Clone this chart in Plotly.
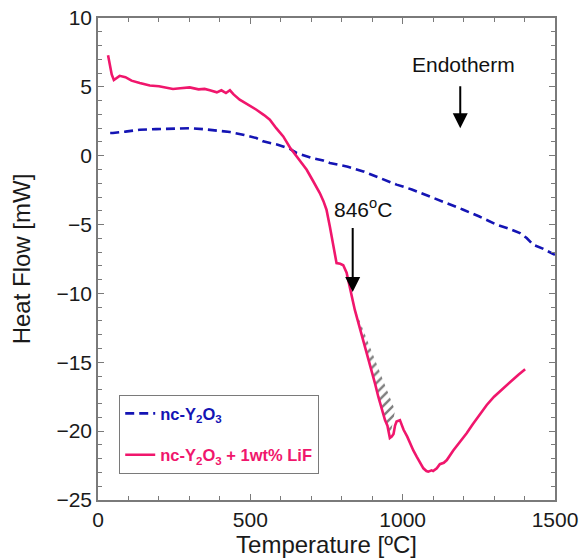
import plotly.graph_objects as go

# ---------------- data ----------------
pure_T = [40, 49, 90, 137, 190, 246, 301, 350, 411, 433, 480, 520, 542, 590, 630, 652,
          700, 739, 761, 820, 871, 930, 980, 1030, 1090, 1150, 1199, 1250, 1309, 1350,
          1385, 1407, 1429, 1460, 1489, 1500]
pure_hf = [1.65, 1.65, 1.75, 1.89, 1.93, 1.96, 2.0, 1.92, 1.77, 1.72, 1.5, 1.28, 1.04, 0.8,
           0.5, 0.2, -0.15, -0.35, -0.53, -0.8, -1.14, -1.65, -2.1, -2.45, -2.96, -3.5,
           -3.92, -4.4, -5.01, -5.3, -5.62, -5.98, -6.47, -6.75, -7.07, -7.2]

lif_T = [33, 38, 45, 52, 60, 71, 90, 110, 137, 170, 200, 230, 246, 270, 301, 330, 350, 367,
         390, 405, 420, 433, 445, 465, 490, 520, 545, 564, 585, 608, 630, 652, 670, 685, 705,
         728, 740, 750, 761, 772, 783, 795, 805, 816, 827, 837, 843, 857, 871, 885, 898, 910,
         920, 932, 942, 950, 958, 964, 970, 975, 980, 991, 1003, 1015, 1024, 1035, 1046, 1057,
         1068, 1078, 1084, 1095, 1100, 1112, 1122, 1135, 1145, 1166, 1177, 1190, 1210, 1230,
         1254, 1276, 1300, 1320, 1352, 1380, 1402]
lif_hf = [7.3, 6.6, 5.9, 5.5, 5.6, 5.8, 5.7, 5.45, 5.28, 5.1, 5.05, 4.95, 4.85, 4.9, 4.96,
          4.82, 4.85, 4.75, 4.6, 4.75, 4.55, 4.75, 4.45, 4.07, 3.75, 3.34, 2.95, 2.62, 2.0,
          1.4, 0.6, -0.05, -0.55, -1.02, -1.8, -2.71, -3.3, -3.92, -5.14, -6.59, -7.8, -7.85,
          -7.95, -8.5, -9.74, -10.6, -11.2, -12.3, -13.4, -14.5, -15.55, -16.6, -17.5, -18.4,
          -19.2, -19.6, -20.5, -20.4, -20.2, -19.6, -19.3, -19.2, -19.9, -20.4, -20.9, -21.4,
          -21.85, -22.3, -22.7, -22.9, -22.94, -22.85, -22.9, -22.7, -22.4, -22.3, -22.1,
          -21.4, -21.1, -20.7, -20.15, -19.5, -18.8, -18.1, -17.5, -17.1, -16.4, -15.9, -15.5]

# hatched onset region: tangent chord start / end
hatch_T = [832, 975]
hatch_hf = [-10.5, -18.5]
hatch_curve_end = 958

# annotations
onset_label = "846<sup>o</sup>C"
onset_label_pos = (870, -3.8)
onset_arrow_T = 836
onset_arrow_hf = [-5.14, -9.9]
endo_label = "Endotherm"
endo_label_pos = (1200, 6.6)
endo_arrow_T = 1189
endo_arrow_hf = [5.16, 2.0]

x_ticks = [0, 500, 1000, 1500]
y_ticks = [-25, -20, -15, -10, -5, 0, 5, 10]

BLUE = "#1414b4"
PINK = "#f0166c"
FONT = "Arial, Liberation Sans, sans-serif"

fig = go.Figure()

# hatch polygon built from the curve and the chord
poly_T = [t for t in lif_T if hatch_T[0] <= t <= hatch_curve_end]
poly_hf = [h for t, h in zip(lif_T, lif_hf) if hatch_T[0] <= t <= hatch_curve_end]
poly_T = poly_T + [hatch_T[1], hatch_T[0]]
poly_hf = poly_hf + [hatch_hf[1], hatch_hf[0]]
fig.add_trace(go.Scatter(
    x=poly_T, y=poly_hf, mode="lines", fill="toself",
    line=dict(width=0, color="rgba(0,0,0,0)"),
    fillcolor="rgba(0,0,0,0)",
    fillpattern=dict(shape="/", fgcolor="#000000", bgcolor="rgba(0,0,0,0)",
                     size=7, solidity=0.35),
    showlegend=False, hoverinfo="skip"))

name_pure = f"<span style='color:{BLUE}'><b>nc-Y<sub>2</sub>O<sub>3</sub></b></span>"
name_lif = f"<span style='color:{PINK}'><b>nc-Y<sub>2</sub>O<sub>3</sub> + 1wt% LiF</b></span>"

fig.add_trace(go.Scatter(
    x=pure_T, y=pure_hf, mode="lines",
    line=dict(color=BLUE, width=2.6, dash="9px,5px"),
    name=name_pure, legendgroup="a"))
fig.add_trace(go.Scatter(
    x=lif_T, y=lif_hf, mode="lines",
    line=dict(color=PINK, width=2.6),
    name=name_lif, legendgroup="b"))

ann = [
    dict(x=onset_label_pos[0], y=onset_label_pos[1], text=onset_label, showarrow=False,
         font=dict(size=21, color="#111", family=FONT)),
    dict(x=onset_arrow_T, y=onset_arrow_hf[1], ax=onset_arrow_T, ay=onset_arrow_hf[0],
         axref="x", ayref="y", text="", showarrow=True, arrowhead=2, arrowsize=1.5,
         arrowwidth=2, arrowcolor="#000"),
    dict(x=endo_label_pos[0], y=endo_label_pos[1], text=endo_label, showarrow=False,
         font=dict(size=21, color="#111", family=FONT)),
    dict(x=endo_arrow_T, y=endo_arrow_hf[1], ax=endo_arrow_T, ay=endo_arrow_hf[0],
         axref="x", ayref="y", text="", showarrow=True, arrowhead=2, arrowsize=1.5,
         arrowwidth=2, arrowcolor="#000"),
]

axis_common = dict(
    showline=True, linecolor="#7a7a7a", linewidth=1.5, mirror="ticks",
    ticks="inside", ticklen=6, tickwidth=1.2, tickcolor="#7a7a7a",
    showgrid=False, zeroline=False, automargin=False,
    tickfont=dict(size=21, color="#1a1a1a", family=FONT),
)

fig.update_layout(
    width=579, height=559,
    margin=dict(l=98, r=24, t=18, b=59),
    plot_bgcolor="white", paper_bgcolor="white",
    font=dict(family=FONT),
    annotations=ann,
    xaxis=dict(range=[0, 1500], tickvals=x_ticks,
               minor=dict(dtick=100, ticks="inside", ticklen=4, tickcolor="#7a7a7a"),
               title=dict(text="Temperature [ºC]", font=dict(size=24, color="#1a1a1a"),
                          standoff=4),
               **axis_common),
    yaxis=dict(range=[-25, 10], tickvals=y_ticks,
               minor=dict(dtick=1, ticks="inside", ticklen=4, tickcolor="#7a7a7a"),
               title=dict(text="Heat Flow [mW]", font=dict(size=24, color="#1a1a1a"),
                          standoff=19),
               **axis_common),
    legend=dict(x=0.046, y=0.218, xanchor="left", yanchor="top",
                bordercolor="#7a7a7a", borderwidth=1.2, bgcolor="white",
                font=dict(size=16.5, family=FONT), tracegroupgap=17,
                traceorder="grouped"),
    showlegend=True,
)

fig.write_html("out.html",
               config={"displayModeBar": False},
               post_script="document.body.style.margin='0';document.body.style.overflow='hidden';")
